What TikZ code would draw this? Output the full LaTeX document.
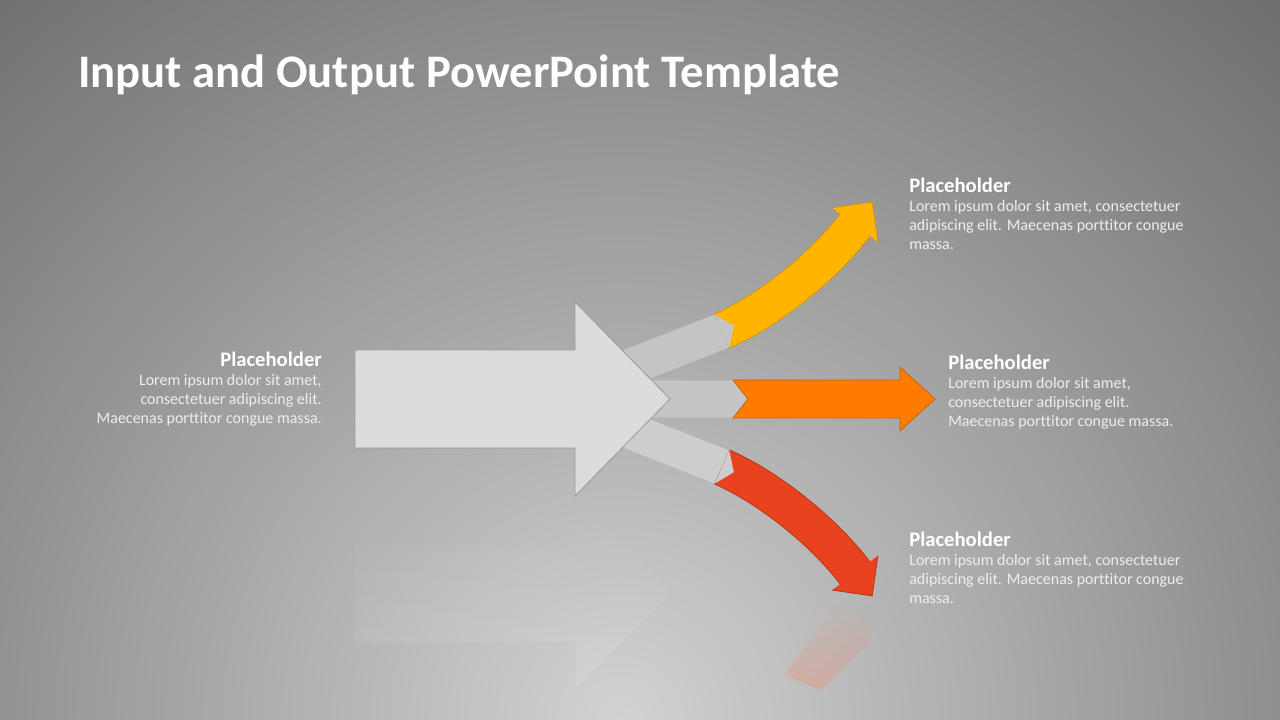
\documentclass[tikz,border=0pt]{standalone}
\usepackage{fontspec}
\setmainfont{Carlito}[Ligatures=NoCommon]
\usepackage{xcolor}
\usetikzlibrary{
positioning,
fadings
}
\definecolor{bginner}{HTML}{D2D2D2}
\definecolor{bgouter}{HTML}{6C6C6C}
\definecolor{arrowgray}{HTML}{DCDCDC}
\definecolor{bandgray}{HTML}{C4C4C4}
\definecolor{outyellow}{HTML}{FFB400}
\definecolor{outorange}{HTML}{FF7C00}
\definecolor{outred}{HTML}{E8421E}
\definecolor{bodytext}{HTML}{EEEEEE}
\tikzset{
titletext/.style={
anchor=base west,
inner sep=0pt,
text=white,
font=\fontsize{35}{42}\selectfont\bfseries
},
headtext/.style={
inner sep=0pt,
text=white,
font=\fontsize{15.5}{18}\selectfont\bfseries
},
bodytext/.style={
inner sep=0pt,
text=bodytext,
font=\fontsize{12}{14.25}\selectfont,
execute at begin node=\strut
},
band/.style={
line width=27pt,
draw=bandgray
},
shaft/.style={
line width=27pt
},
rim/.style={
line width=28.5pt
}
}

\begin{document}
\begin{tikzpicture}[x=0.75pt, y=0.75pt]
\useasboundingbox (0,0) rectangle (1280,720);
\begin{scope}
\clip (0,0) rectangle (1280,720);
\shade[inner color=bginner, outer color=bgouter] (620,0) circle (750pt);
\end{scope}

\fill[white, fill opacity=.1, path fading=north] (355,176) -- (575,176) -- (575,224) -- (670,127) -- (575,30) -- (575,78) -- (355,78) -- cycle;
\fill[outred!60!white, fill opacity=.4, path fading=north] (833,116) -- (873,116) -- (870,78) -- (820,30) -- (785,45) -- cycle;

\coordinate (ua) at (602.7,342.4);
\coordinate (ub) at (722,389);
\coordinate (uc) at (855,495);
\coordinate (la) at (602.7,299.6);
\coordinate (lb) at (722,253);
\coordinate (lc) at (855,147);

\draw[band] (ua) -- (ub);
\draw[band, draw=bandgray!85!white] (la) -- (lb);
\filldraw[fill=bandgray, draw=black!30, line width=.5pt] (620,340) -- (733,340) -- (748,321) -- (733,302) -- (620,302) -- cycle;

\draw[rim, draw=outyellow!85!black] (ub) .. controls (770,410) and (825,455) .. (uc);
\draw[shaft, draw=outyellow] (ub) .. controls (770,410) and (825,455) .. (uc);
\fill[outyellow] (832.2,512.1) -- (872.2,517.9) -- (877.8,477.9) -- cycle;
\draw[outyellow!85!black, line width=.6pt] (832.2,512.1) -- (872.2,517.9) -- (877.8,477.9);
\fill[bandgray] (714.8,405.5) -- (733.9,394.2) -- (729.2,372.5) -- cycle;

\draw[rim, draw=outred!80!black] (lb) .. controls (770,232) and (825,187) .. (lc);
\draw[shaft, draw=outred] (lb) .. controls (770,232) and (825,187) .. (lc);
\fill[outred] (832.2,129.9) -- (872.2,124.1) -- (877.8,164.1) -- cycle;
\draw[outred!80!black, line width=.6pt] (832.2,129.9) -- (872.2,124.1) -- (877.8,164.1);
\fill[bandgray!85!white] (729.2,269.5) -- (733.9,247.8) -- (714.8,236.5) -- cycle;

\filldraw[fill=outorange, draw=outorange!80!black, line width=.6pt] (733,340) -- (900,340) -- (900,353) -- (935,321) -- (900,289) -- (900,302) -- (733,302) -- (748,321) -- cycle;

\filldraw[fill=arrowgray, draw=black!40, line width=.6pt] (355,370) -- (575,370) -- (575,418) -- (670,321) -- (575,224) -- (575,272) -- (355,272) -- cycle;

\node[titletext] (title) at (78,632) {Input and Output PowerPoint Template};

\node[headtext, anchor=base east] (inhead) at (322,353) {Placeholder};
\node[bodytext, align=right, below=5pt of inhead.base east, anchor=north east] (inbody) {Lorem ipsum dolor sit amet,\\consectetuer adipiscing elit.\\Maecenas porttitor congue massa.};

\node[headtext, anchor=base west] (yhead) at (909,527) {Placeholder};
\node[bodytext, align=left, below=5pt of yhead.base west, anchor=north west] (ybody) {Lorem ipsum dolor sit amet, consectetuer\\adipiscing elit. Maecenas porttitor congue\\massa.};

\node[headtext, anchor=base west] (ohead) at (948,350) {Placeholder};
\node[bodytext, align=left, below=5pt of ohead.base west, anchor=north west] (obody) {Lorem ipsum dolor sit amet,\\consectetuer adipiscing elit.\\Maecenas porttitor congue massa.};

\node[headtext, anchor=base west] (rhead) at (909,173) {Placeholder};
\node[bodytext, align=left, below=5pt of rhead.base west, anchor=north west] (rbody) {Lorem ipsum dolor sit amet, consectetuer\\adipiscing elit. Maecenas porttitor congue\\massa.};
\end{tikzpicture}
\end{document}
